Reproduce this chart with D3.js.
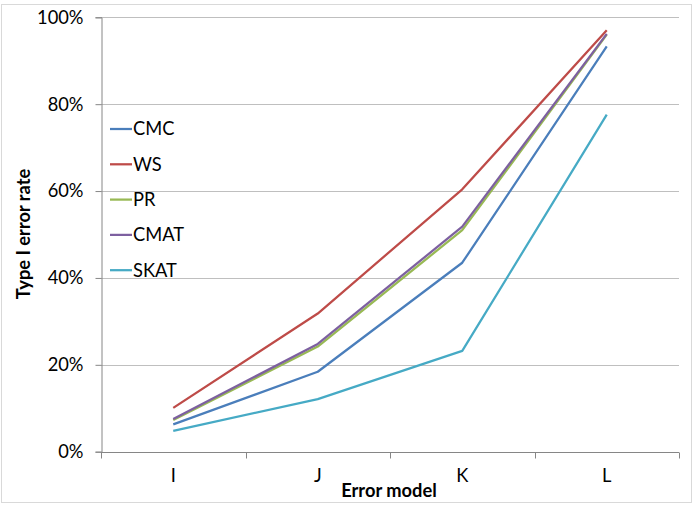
<!DOCTYPE html>
<html>
<head>
<meta charset="utf-8">
<script src="https://cdn.jsdelivr.net/npm/d3@7"></script>
<style>
  body { margin: 0; background: #fff; }
  svg text { font-family: Lato, "Open Sans", sans-serif; fill: #000; }
</style>
</head>
<body>
<svg id="chart" width="699" height="509"></svg>
<script>
const categories = ["I", "J", "K", "L"];
const seriesNames = ["CMC", "WS", "PR", "CMAT", "SKAT"];
const CMC  = [0.063, 0.184, 0.435, 0.933];
const WS   = [0.101, 0.318, 0.604, 0.970];
const PR   = [0.073, 0.242, 0.510, 0.960];
const CMAT = [0.075, 0.248, 0.518, 0.962];
const SKAT = [0.048, 0.121, 0.232, 0.776];
const yTicks = [0, 0.2, 0.4, 0.6, 0.8, 1.0];
const colors = ["#4a7ebb", "#be4b48", "#98b954", "#7d60a0", "#46aac5"];

const series = [CMC, WS, PR, CMAT, SKAT];
const svg = d3.select("#chart");
const fs = "18.3px";

// outer border
svg.append("rect").attr("x", 1.5).attr("y", 4.5).attr("width", 690).attr("height", 498)
  .attr("fill", "none").attr("stroke", "#d9d9d9").attr("stroke-width", 1);

const pLeft = 101, pRight = 679, pTop = 17.3, pBottom = 451.7;
const x = d3.scaleBand().domain(categories).range([pLeft, pRight]).padding(0);
const y = d3.scaleLinear().domain([0, 1]).range([pBottom, pTop]);

// gridlines
svg.append("g").selectAll("line").data(yTicks.slice(1)).join("line")
  .attr("x1", pLeft).attr("x2", pRight)
  .attr("y1", d => Math.round(y(d)) + 0.5).attr("y2", d => Math.round(y(d)) + 0.5)
  .attr("stroke", "#bfbfbf").attr("stroke-width", 1);

// y axis
const yAxis = svg.append("g").attr("transform", `translate(${pLeft + 0.5},0)`)
  .call(d3.axisLeft(y).tickValues(yTicks).tickFormat(d3.format(".0%")).tickSize(6).tickPadding(12));
yAxis.select(".domain").attr("stroke", "#868686");
yAxis.selectAll(".tick line").attr("stroke", "#868686");
yAxis.selectAll("text").style("font-size", fs).attr("fill", "#000");

// x axis
const xAxis = svg.append("g").attr("transform", `translate(0,${Math.round(pBottom) + 0.5})`)
  .call(d3.axisBottom(x).tickSize(0).tickPadding(17));
xAxis.select(".domain").attr("stroke", "#868686").attr("d", `M${pLeft},0H${pRight}`);
xAxis.selectAll("text").style("font-size", fs).attr("fill", "#000");
// category boundary ticks
const bounds = categories.map(c => x(c)).concat([pRight]);
xAxis.append("g").selectAll("line").data(bounds).join("line")
  .attr("x1", d => Math.round(d) + 0.5).attr("x2", d => Math.round(d) + 0.5)
  .attr("y1", 0).attr("y2", 6).attr("stroke", "#868686");

// lines
const line = d3.line().x((d, i) => x(categories[i]) + x.bandwidth() / 2).y(d => y(d));
svg.append("g").selectAll("path").data(series).join("path")
  .attr("d", d => line(d)).attr("fill", "none")
  .attr("stroke", (d, i) => colors[i]).attr("stroke-width", 2.25)
  .attr("stroke-linejoin", "round");

// legend
const lg = svg.append("g");
seriesNames.forEach((n, i) => {
  const yy = 129 + i * 35.3;
  lg.append("line").attr("x1", 110).attr("x2", 132).attr("y1", yy).attr("y2", yy)
    .attr("stroke", colors[i]).attr("stroke-width", 2.25);
  lg.append("text").attr("x", 133).attr("y", yy).attr("dy", "0.35em")
    .style("font-size", fs).text(n);
});

// axis titles
svg.append("text").attr("transform", "translate(30,234) rotate(-90)")
  .attr("text-anchor", "middle").style("font-size", fs).style("font-weight", "bold")
  .text("Type I error rate");
svg.append("text").attr("x", 389).attr("y", 497).attr("text-anchor", "middle")
  .style("font-size", fs).style("font-weight", "bold").text("Error model");
</script>
</body>
</html>
